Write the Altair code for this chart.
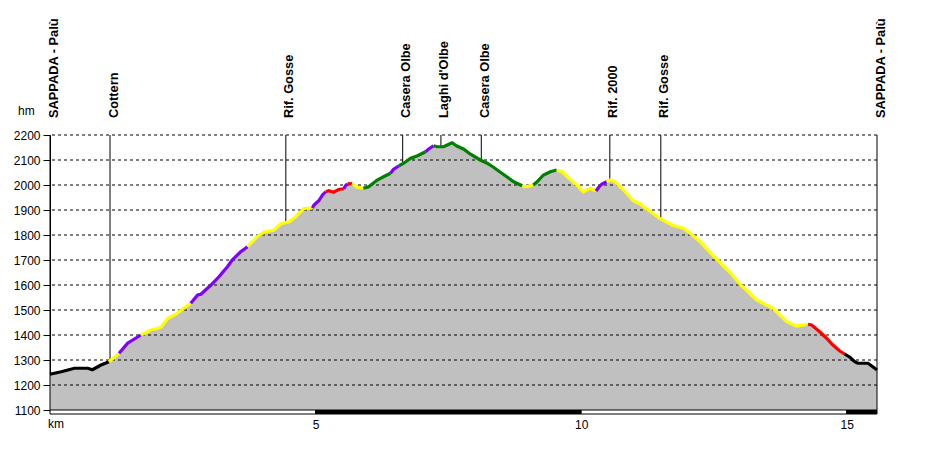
import altair as alt
import pandas as pd

# ---------------- data ----------------
km = [0.00, 0.21, 0.46, 0.71, 0.80, 0.96, 1.11, 1.30, 1.46, 1.71,
      1.90, 2.03, 2.10, 2.21, 2.35, 2.52, 2.65, 2.78, 2.84, 3.03,
      3.18, 3.34, 3.43, 3.59, 3.72, 3.90, 4.03, 4.22, 4.34, 4.50,
      4.62, 4.78, 4.94, 4.97, 5.06, 5.13, 5.19, 5.25, 5.34, 5.44,
      5.53, 5.56, 5.60, 5.69, 5.78, 5.90, 6.00, 6.16, 6.28, 6.41,
      6.47, 6.57, 6.66, 6.79, 6.91, 7.07, 7.13, 7.22, 7.29, 7.41,
      7.48, 7.57, 7.66, 7.79, 7.91, 8.10, 8.23, 8.35, 8.48, 8.60,
      8.73, 8.89, 8.95, 9.10, 9.17, 9.29, 9.42, 9.54, 9.64, 9.79,
      9.92, 10.04, 10.17, 10.28, 10.33, 10.39, 10.48, 10.55, 10.64, 10.80,
      10.98, 11.11, 11.23, 11.48, 11.73, 11.92, 12.05, 12.24, 12.44, 12.63,
      12.82, 13.00, 13.11, 13.30, 13.61, 13.87, 14.05, 14.27, 14.34, 14.49,
      14.62, 14.74, 14.87, 14.96, 15.06, 15.15, 15.21, 15.40, 15.49, 15.57]
elev = [1243, 1253, 1267, 1267, 1261, 1280, 1293, 1327, 1367, 1400,
        1420, 1427, 1433, 1465, 1480, 1507, 1527, 1560, 1563, 1600,
        1633, 1673, 1700, 1733, 1753, 1793, 1811, 1820, 1844, 1853,
        1872, 1906, 1908, 1920, 1937, 1960, 1973, 1977, 1971, 1983,
        1984, 1996, 2005, 2005, 1991, 1987, 1993, 2020, 2033, 2047,
        2063, 2077, 2087, 2107, 2116, 2133, 2144, 2157, 2153, 2153,
        2160, 2169, 2156, 2143, 2124, 2100, 2087, 2071, 2051, 2033,
        2013, 1997, 1993, 2000, 2013, 2040, 2053, 2060, 2053, 2023,
        2000, 1973, 1987, 1976, 1991, 2004, 2013, 2020, 2013, 1980,
        1937, 1924, 1905, 1866, 1838, 1827, 1807, 1773, 1727, 1687,
        1647, 1600, 1580, 1540, 1507, 1453, 1436, 1443, 1440, 1413,
        1387, 1360, 1336, 1324, 1311, 1293, 1287, 1287, 1273, 1260]

# colour of the track, segment by segment (end of each segment in km)
seg_end_km = [1.11, 1.30, 1.71, 2.65, 3.72, 4.94, 5.19, 5.53, 5.60, 5.69,
              5.90, 6.41, 6.57, 7.07, 7.22, 8.89, 9.10, 9.54, 10.28, 10.48,
              14.27, 14.96, 15.57]
seg_color = ["k", "y", "p", "y", "p", "y", "p", "r", "p", "r",
             "y", "g", "p", "g", "p", "g", "y", "g", "y", "p",
             "y", "r", "k"]
color_keys = ["k", "y", "p", "r", "g"]
color_vals = ["#000000", "#ffff00", "#8000ff", "#ff0000", "#008000"]

wp_names = ["SAPPADA - Palù", "Cottern", "Rif. Gosse", "Casera Olbe", "Laghi d'Olbe",
            "Casera Olbe", "Rif. 2000", "Rif. Gosse", "SAPPADA - Palù"]
wp_km = [0.0, 1.13, 4.44, 6.64, 7.36, 8.12, 10.54, 11.50, 15.57]
wp_elev = [1100, 1295, 1850, 2086, 2155, 2098, 2020, 1866, 1100]

y_ticks = [1100, 1200, 1300, 1400, 1500, 1600, 1700, 1800, 1900, 2000, 2100, 2200]
grid_levels = [1200, 1300, 1400, 1500, 1600, 1700, 1800, 1900, 2000, 2100, 2200]
x_ticks = [5, 10, 15]

bar_start = [0, 5, 10, 15]
bar_end = [5, 10, 15, 15.57]
bar_fill = ["white", "black", "white", "black"]

# ---------------- build ----------------
FONT = "Liberation Sans"
x_scale = alt.Scale(domain=[0, 15.57], nice=False, zero=False)
y_scale = alt.Scale(domain=[1100, 2200], nice=False, zero=False)
x_axis = alt.Axis(values=x_ticks, title=None, grid=False, ticks=False, domain=False,
                  format="d", labelFont=FONT, labelFontSize=12, labelColor="black",
                  labelPadding=9)
y_axis = alt.Axis(values=y_ticks, title=None, grid=False, tickSize=7, tickColor="black",
                  domainColor="black", format="d", labelFont=FONT, labelFontSize=12,
                  labelColor="black", labelPadding=3)

def X(f):
    return alt.X(f, type="quantitative", scale=x_scale, axis=x_axis)

def Y(f):
    return alt.Y(f, type="quantitative", scale=y_scale, axis=y_axis)

prof = pd.DataFrame({"km": km, "elev": elev, "base": 1100})

rows = []
start = 0.0
for s, (end, col) in enumerate(zip(seg_end_km, seg_color)):
    for d, e in zip(km, elev):
        if start - 1e-9 <= d <= end + 1e-9:
            rows.append({"km": d, "elev": e, "seg": s, "col": col})
    start = end
line_df = pd.DataFrame(rows)

grid_df = pd.DataFrame({"lvl": grid_levels})
wp_df = pd.DataFrame({"name": wp_names, "km": wp_km, "elev": wp_elev, "top": 2200})
bar_df = pd.DataFrame({"s": bar_start, "e": bar_end, "f": bar_fill})

area = alt.Chart(prof).mark_area(color="#c0c0c0").encode(
    x=X("km"), y=Y("elev"), y2="base:Q")

grid = alt.Chart(grid_df).mark_rule(color="black", strokeDash=[3, 3], strokeWidth=1).encode(
    y=Y("lvl"))

wp_rules = alt.Chart(wp_df).mark_rule(color="black", strokeWidth=1).encode(
    x=X("km"), y=Y("top"), y2="elev:Q")

line = alt.Chart(line_df).mark_line(strokeWidth=3.2).encode(
    x=X("km"), y=Y("elev"), detail="seg:N", order="km:Q",
    color=alt.Color("col:N", scale=alt.Scale(domain=color_keys, range=color_vals), legend=None))

bar = alt.Chart(bar_df).mark_rect(stroke="black", strokeWidth=1).encode(
    x=X("s"), x2="e:Q", y=alt.value(275), y2=alt.value(279),
    fill=alt.Fill("f:N", scale=None))

labels = alt.Chart(wp_df).mark_text(angle=270, align="left", baseline="alphabetic", dy=7.5,
                                    font=FONT, fontSize=12.8, fontWeight="bold",
                                    color="black").encode(
    x=X("km"), y=alt.value(-17), text="name:N")

hm = alt.Chart(pd.DataFrame({"t": ["hm"]})).mark_text(
    align="left", baseline="alphabetic", font=FONT, fontSize=12, color="black").encode(
    x=alt.value(-32), y=alt.value(-20), text="t:N")

kmt = alt.Chart(pd.DataFrame({"t": ["km"]})).mark_text(
    align="left", baseline="alphabetic", font=FONT, fontSize=12, color="black").encode(
    x=alt.value(-2), y=alt.value(18 + 275), text="t:N")

chart = alt.layer(area, grid, wp_rules, line, bar, labels, hm, kmt).properties(
    width=827, height=275,
    autosize=alt.AutoSizeParams(type="none"),
    padding={"left": 50, "top": 135, "right": 50, "bottom": 40},
    background="white",
).configure_view(stroke=None)

chart.save("out.html", embed_options={"renderer": "svg", "actions": False})
